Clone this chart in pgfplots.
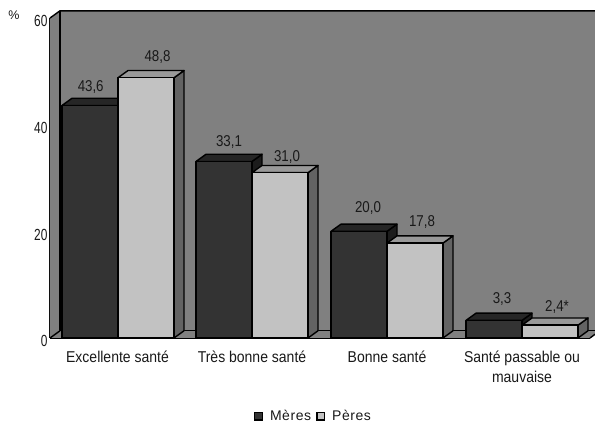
\documentclass[border=0pt]{standalone}
\usepackage{pgfplots}
\pgfplotsset{compat=1.18}
\usepackage{fontspec}
\setmainfont{Liberation Sans}
\definecolor{wall}{gray}{0.5}
\definecolor{darkf}{gray}{0.2}
\definecolor{darkt}{gray}{0.15}
\definecolor{darks}{gray}{0.11}
\definecolor{lightf}{gray}{0.76}
\definecolor{lightt}{gray}{0.6}
\definecolor{lights}{gray}{0.39}
\definecolor{txt}{gray}{0.1}
\pgfplotsset{tdbar/.style={draw=black,line width=1.4pt,line join=round,forget plot}}
% #1 left x (px), #2 value, #3 front, #4 top, #5 side
\newcommand{\threedbar}[5]{%
  \pgfmathsetmacro{\xa}{#1}\pgfmathsetmacro{\xb}{#1+56}%
  \pgfmathsetmacro{\xc}{#1+66}\pgfmathsetmacro{\xd}{#1+10}%
  \pgfmathsetmacro{\yb}{#2+1.35}%
  \addplot[tdbar,fill=#5] coordinates {(\xb,0) (\xc,1.35) (\xc,\yb) (\xb,#2)} -- cycle;
  \addplot[tdbar,fill=#4] coordinates {(\xa,#2) (\xd,\yb) (\xc,\yb) (\xb,#2)} -- cycle;
  \addplot[tdbar,fill=#3] coordinates {(\xa,0) (\xa,#2) (\xb,#2) (\xb,0)} -- cycle;
}
\tikzset{val/.style={font=\fontsize{14}{14}\selectfont,text=txt,inner sep=0pt,xscale=.95,yscale=1.12,transform shape}}
\begin{document}
\begin{tikzpicture}[x=1pt,y=1pt]
\path[use as bounding box] (0,0) rectangle (595,423);
\begin{axis}[
  at={(50pt,85pt)}, anchor=origin, scale only axis,
  width=540pt, height=320pt,
  xmin=50, xmax=590, ymin=0, ymax=60,
  clip=false,
  axis x line=bottom, axis y line=left,
  axis line style={-,line width=1.4pt},
  xtick={117.5,252,387,522},
  xticklabels={Excellente santé,Très bonne santé,Bonne santé,{Santé passable ou\\mauvaise}},
  x tick label style={align=center,font=\fontsize{14}{18}\selectfont,yshift=-7pt,text=txt,yscale=1.12,transform shape},
  ytick={0,20,40,60},
  y tick label style={font=\fontsize{14}{14}\selectfont,text=txt,xscale=.85,yscale=1.15,transform shape,xshift=3pt,yshift=-3pt},
  /pgf/number format/assume math mode=true,
  tick style={draw=none},
  legend columns=2,
  legend style={draw=none,fill=none,at={(axis cs:313.5,-14.6)},anchor=center,
    font=\fontsize{14}{14}\selectfont\addfontfeature{LetterSpace=4},text=txt,
    /tikz/every even column/.append style={column sep=3pt}},
]
% walls and floor
\addplot[fill=wall,draw=none,forget plot] coordinates {(50,0) (50,60) (60,61.35) (595,61.35) (595,0.7) (590,0) } -- cycle;
\addplot[tdbar] coordinates {(50,60) (60,61.35) (595,61.35)};
\addplot[tdbar] coordinates {(60,61.35) (60,1.35) (595,1.35)};
\addplot[tdbar] coordinates {(50,0) (60,1.35)};
\addplot[tdbar] coordinates {(590,0) (595,0.7)};
% bars
\threedbar{62}{43.6}{darkf}{darkt}{darks}
\threedbar{118}{48.8}{lightf}{lightt}{lights}
\threedbar{196}{33.1}{darkf}{darkt}{darks}
\threedbar{252}{31.0}{lightf}{lightt}{lights}
\threedbar{331}{20.0}{darkf}{darkt}{darks}
\threedbar{387}{17.8}{lightf}{lightt}{lights}
\threedbar{466}{3.3}{darkf}{darkt}{darks}
\threedbar{522}{2.4}{lightf}{lightt}{lights}
% value labels
\node[val] at (axis cs:90.7,47.06) {43,6};
\node[val] at (axis cs:157.5,52.69) {48,8};
\node[val] at (axis cs:229,36.75) {33,1};
\node[val] at (axis cs:287,33.94) {31,0};
\node[val] at (axis cs:368,24.4) {20,0};
\node[val] at (axis cs:422,21.75) {17,8};
\node[val] at (axis cs:502,7.31) {3,3};
\node[val] at (axis cs:557,5.81) {2,4*};
\node[font=\fontsize{12.5}{12.5}\selectfont,text=txt,inner sep=0pt] at (axis cs:14,60.6) {\%};
% legend
\addlegendimage{legend image code/.code={\path[draw=none,fill=none] (0pt,0pt) -- (14pt,0pt);\draw[fill=darkf,line width=1.4pt] (0.7pt,-4pt) rectangle (8.3pt,3.5pt);}}
\addlegendentry{Mères}
\addlegendimage{legend image code/.code={\path[draw=none,fill=none] (0pt,0pt) -- (14pt,0pt);\draw[fill=lightf,line width=1.4pt] (0.7pt,-4pt) rectangle (8.3pt,3.5pt);}}
\addlegendentry{Pères}
\end{axis}
\end{tikzpicture}
\end{document}
